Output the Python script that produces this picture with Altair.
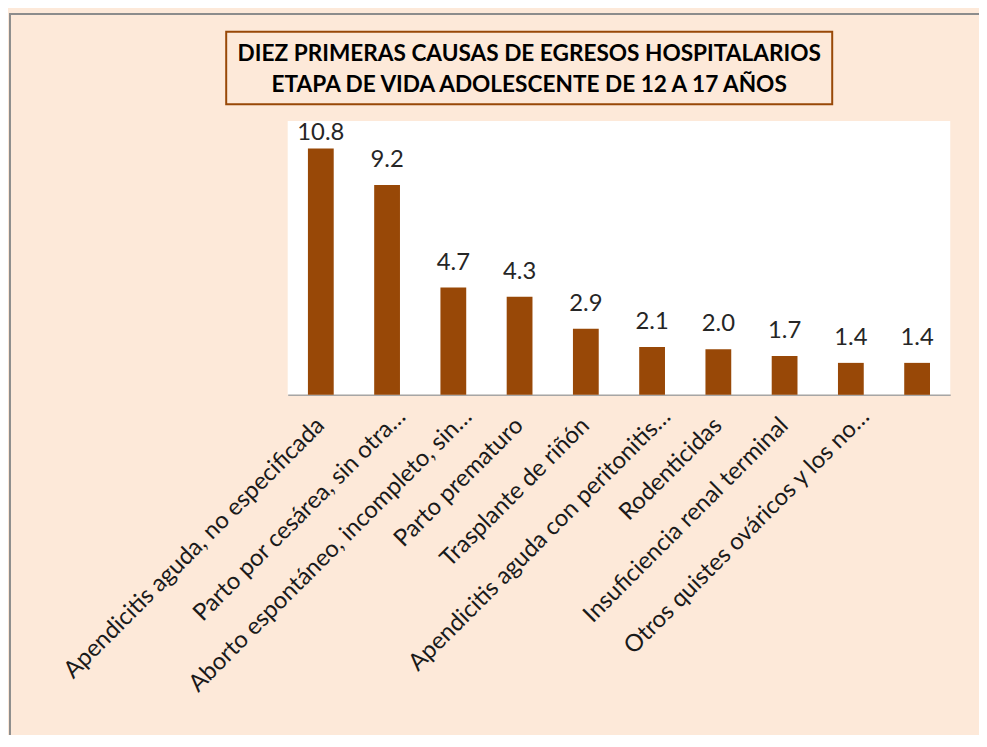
import altair as alt
import pandas as pd

categories = [
    "Apendicitis aguda, no especificada",
    "Parto por cesárea, sin otra…",
    "Aborto espontáneo, incompleto, sin…",
    "Parto prematuro",
    "Trasplante de riñón",
    "Apendicitis aguda con peritonitis…",
    "Rodenticidas",
    "Insuficiencia renal terminal",
    "Otros quistes ováricos y los no…",
    "",
]
values = [10.8, 9.2, 4.7, 4.3, 2.9, 2.1, 2.0, 1.7, 1.4, 1.4]
title_lines = [
    "DIEZ PRIMERAS CAUSAS DE EGRESOS HOSPITALARIOS",
    "ETAPA DE VIDA ADOLESCENTE DE 12 A 17 AÑOS",
]

df = pd.DataFrame({"causa": categories, "valor": values})

BAR = "#984807"
FONT = "Lato"

x_enc = alt.X(
    "causa:N",
    sort=categories,
    title=None,
    axis=alt.Axis(
        labelAngle=-45,
        labelAlign="right",
        labelBaseline="middle",
        labelFont=FONT,
        labelFontSize=24,
        labelColor="#1a1a1a",
        labelLimit=0,
        ticks=False,
        tickSize=0,
        labelOffset={"condition": {"test": "test(/…/, datum.label)", "value": 15}, "value": 0},
        labelPadding={"condition": {"test": "test(/…/, datum.label)", "value": 18}, "value": 27},
        domainColor="#A6A6A6",
        domainWidth=1.5,
        grid=False,
    ),
)
y_scale = alt.Scale(domain=[0, 12])

base = alt.Chart(df)

bars = base.mark_bar(size=26, color=BAR).encode(
    x=x_enc,
    y=alt.Y("valor:Q", scale=y_scale, axis=None),
)

labels = base.transform_calculate(
    ly="min(datum.valor, 10.4)"
).mark_text(dy=-18, font=FONT, fontSize=24, color="#262626", baseline="alphabetic").encode(
    x=alt.X("causa:N", sort=categories),
    y=alt.Y("ly:Q", scale=y_scale),
    text=alt.Text("valor:Q", format=".1f"),
)

one = alt.Data(values=[{}])

title_box = alt.Chart(one).mark_rect(
    fill="#FDE9D9", stroke=BAR, strokeWidth=2
).encode(
    x=alt.value(-62), x2=alt.value(549), y=alt.value(-90), y2=alt.value(-17)
)

t1 = alt.Chart(one).mark_text(
    text=title_lines[0], font=FONT, fontSize=22.8, fontWeight="bold", color="#000000",
    align="center", baseline="alphabetic",
).encode(x=alt.value(243.5), y=alt.value(-61))

t2 = alt.Chart(one).mark_text(
    text=title_lines[1], font=FONT, fontSize=22.8, fontWeight="bold", color="#000000",
    align="center", baseline="alphabetic",
).encode(x=alt.value(243.5), y=alt.value(-29))

border_left = alt.Chart(one).mark_rule(color="#8C8C8C", strokeWidth=2).encode(
    x=alt.value(-280), y=alt.value(-109), y2=alt.value(620)
)
border_top = alt.Chart(one).mark_rule(color="#8C8C8C", strokeWidth=2).encode(
    x=alt.value(-281), x2=alt.value(700), y=alt.value(-108)
)

chart = alt.layer(
    border_left, border_top, title_box, t1, t2, bars, labels
).properties(
    width=668,
    height=276,
    background="#FDE9D9",
    padding={"left": 282, "top": 111, "right": 29, "bottom": 340},
    autosize=alt.AutoSizeParams(type="none"),
).configure_view(fill="white", strokeWidth=0)

chart.save("out.html", embed_options={"renderer": "svg", "actions": False})
